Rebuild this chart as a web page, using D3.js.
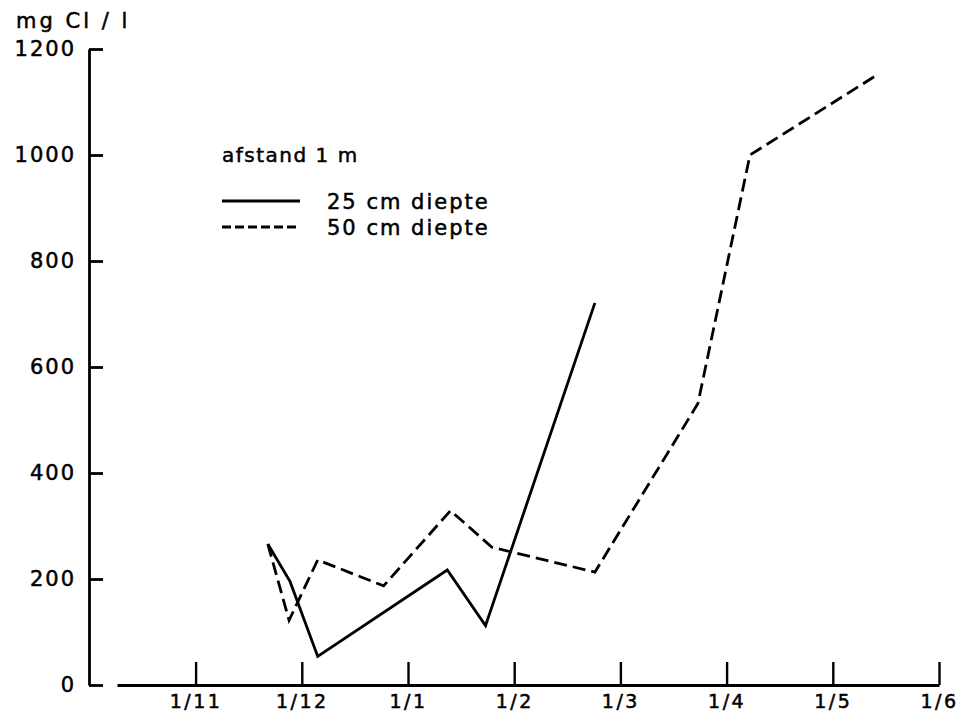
<!DOCTYPE html>
<html>
<head>
<meta charset="utf-8">
<script src="https://cdn.jsdelivr.net/npm/d3@7"></script>
<style>
  html, body { margin: 0; padding: 0; background: #fff; }
  svg { display: block; }
  text { font-family: "DejaVu Sans", sans-serif; fill: #000; stroke: #000; stroke-width: 0.5px; }
</style>
</head>
<body>
<div id="chart"></div>
<script>
// month ticks (index 0 = 1/11)
const monthLabels = ['1/11', '1/12', '1/1', '1/2', '1/3', '1/4', '1/5', '1/6'];
const yTicks = [0, 200, 400, 600, 800, 1000, 1200];

// 25 cm diepte: month position + mg Cl/l
const depth25X = [0.68, 0.89, 1.15, 2.37, 2.73, 3.76];
const depth25Y = [266, 195, 54, 217, 112, 721];

// 50 cm diepte
const depth50X = [0.68, 0.88, 1.15, 1.77, 2.40, 2.79, 3.76, 4.73, 5.22, 6.40];
const depth50Y = [266, 122, 236, 187, 329, 260, 213, 531, 1000, 1149];

const legendItems = [
  {label: '25 cm diepte', dash: null},
  {label: '50 cm diepte', dash: '9,4'}
];

(function(){
  const W = 958, H = 712;
  const svg = d3.select('#chart').append('svg').attr('width', W).attr('height', H);

  // x axis starts a bit left of 1/11, ends at 1/6
  const x = d3.scaleLinear().domain([-0.74, 7]).range([117, 939]);
  const y = d3.scaleLinear().domain([0, 1200]).range([685, 49]);

  // y axis, ticks pointing inward
  const yAxis = d3.axisLeft(y).tickValues(yTicks).tickFormat(d3.format('d'))
    .tickSize(-14).tickSizeOuter(0).tickPadding(13);
  const gy = svg.append('g').attr('transform', 'translate(89,0)').call(yAxis);
  gy.select('.domain').attr('stroke', '#000').attr('stroke-width', 2.8);
  gy.selectAll('.tick line').attr('stroke', '#000').attr('stroke-width', 2.8);
  gy.selectAll('.tick text')
    .attr('font-family', '"DejaVu Sans", sans-serif')
    .style('font-size', '21px').style('letter-spacing', '2px')
    .attr('fill', '#000');

  // x axis
  const xAxis = d3.axisBottom(x).tickValues(d3.range(monthLabels.length))
    .tickFormat(i => monthLabels[i]).tickSize(-23).tickSizeOuter(0).tickPadding(10);
  const gx = svg.append('g').attr('transform', 'translate(0,685)').call(xAxis);
  gx.select('.domain').attr('stroke', '#000').attr('stroke-width', 2.8);
  gx.selectAll('.tick line').attr('stroke', '#000').attr('stroke-width', 2.4);
  gx.selectAll('.tick text')
    .attr('font-family', '"DejaVu Sans", sans-serif')
    .style('font-size', '19px').style('letter-spacing', '2.5px')
    .attr('fill', '#000');

  // unit label
  svg.append('text').attr('x', 16).attr('y', 28)
    .style('font-size', '21px').style('letter-spacing', '3px')
    .text('mg  Cl / l');

  const line = d3.line().x(d => x(d[0])).y(d => y(d[1]));
  const s25 = depth25X.map((v, i) => [v, depth25Y[i]]);
  const s50 = depth50X.map((v, i) => [v, depth50Y[i]]);

  svg.append('path').datum(s50).attr('d', line)
    .attr('fill', 'none').attr('stroke', '#000').attr('stroke-width', 2.8)
    .attr('stroke-dasharray', '13,6');
  svg.append('path').datum(s25).attr('d', line)
    .attr('fill', 'none').attr('stroke', '#000').attr('stroke-width', 2.8)
    .attr('stroke-linejoin', 'miter');

  // legend
  svg.append('text').attr('x', 222).attr('y', 162)
    .style('font-size', '20px').style('letter-spacing', '1.5px')
    .text('afstand  1 m');

  const lg = svg.selectAll('g.legend').data(legendItems).join('g')
    .attr('class', 'legend')
    .attr('transform', (d, i) => `translate(222,${201 + i * 26})`);
  lg.append('line').attr('x1', 0).attr('x2', 78).attr('y1', 0).attr('y2', 0)
    .attr('stroke', '#000').attr('stroke-width', 2.8)
    .attr('stroke-dasharray', d => d.dash);
  lg.append('text').attr('x', 105).attr('y', 8)
    .style('font-size', '21px').style('letter-spacing', '2px')
    .text(d => d.label);
})();
</script>
</body>
</html>
